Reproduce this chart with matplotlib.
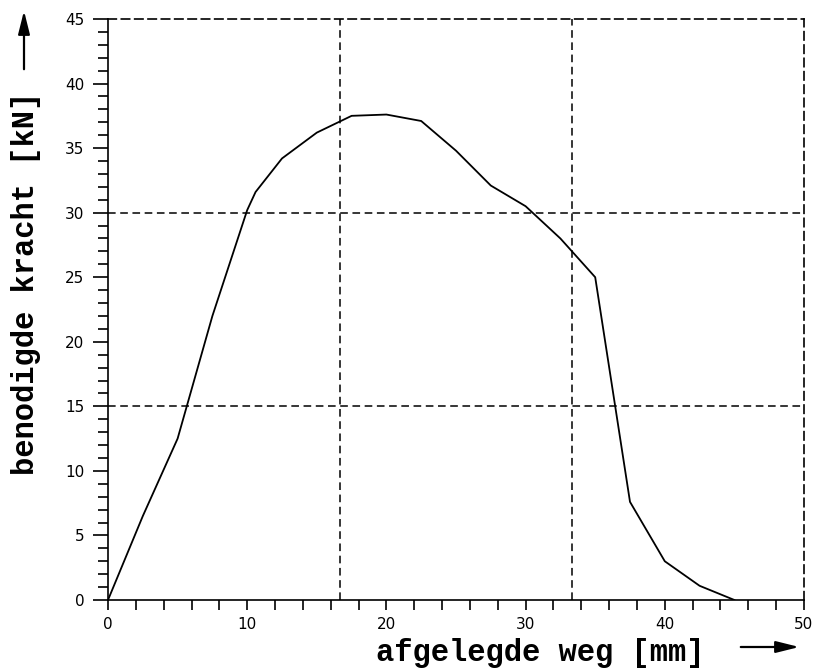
import matplotlib.pyplot as plt
import numpy as np

# afgelegde weg [mm] en benodigde kracht [kN]
weg = [0, 2.5, 5, 7.5, 10, 10.6, 12.5, 15, 17.5, 20, 22.5, 25, 27.5, 30, 32.5, 35, 37.5, 40, 42.5, 45]
kracht = [0, 6.5, 12.5, 22, 30.2, 31.6, 34.2, 36.2, 37.5, 37.6, 37.1, 34.8, 32.1, 30.5, 28.0, 25.0, 7.6, 3.0, 1.1, 0]

x_ticks = [0, 10, 20, 30, 40, 50]
y_ticks = [0, 5, 10, 15, 20, 25, 30, 35, 40, 45]
x_grid = [50 / 3, 100 / 3]
y_grid = [15, 30]

fig = plt.figure(figsize=(8.2, 6.71), dpi=100)
ax = fig.add_axes([108 / 820, 1 - 600 / 671, 696 / 820, 581 / 671])

ax.plot(weg, kracht, color='black', lw=1.3)

ax.set_xlim(0, 50)
ax.set_ylim(0, 45)

dash = (0, (5, 3))
for xv in x_grid:
    ax.axvline(xv, color='black', lw=1.1, linestyle=dash)
for yv in y_grid:
    ax.axhline(yv, color='black', lw=1.1, linestyle=dash)

ax.spines['top'].set_linestyle(dash)
ax.spines['right'].set_linestyle(dash)
for s in ax.spines.values():
    s.set_linewidth(1.2)

ax.set_xticks(x_ticks)
ax.set_xticks(np.arange(0, 51, 2), minor=True)
ax.set_yticks(y_ticks)
ax.set_yticks(np.arange(0, 46, 1), minor=True)
ax.tick_params(axis='both', which='both', width=1.2, labelsize=11, direction='out')
ax.tick_params(axis='x', which='both', length=7, pad=5)
ax.tick_params(axis='y', which='major', length=11, pad=6)
ax.tick_params(axis='y', which='minor', length=7)

mono = 'Liberation Mono'
fig.text(0.659, 1 - 661 / 671, 'afgelegde weg [mm]', family=mono, fontsize=22, fontweight='bold',
         ha='center', va='baseline')
fig.text(0.032, 1 - 283 / 671, 'benodigde kracht [kN]', family=mono, fontsize=22, fontweight='bold',
         ha='center', va='center', rotation=90)

arrow = dict(arrowstyle='-|>,head_length=1.4,head_width=0.35', color='black', lw=1.6)
ax.annotate('', xy=(802 / 820, 1 - 647 / 671), xytext=(738 / 820, 1 - 647 / 671),
            xycoords='figure fraction', arrowprops=arrow)
ax.annotate('', xy=(24 / 820, 1 - 8 / 671), xytext=(24 / 820, 1 - 72 / 671),
            xycoords='figure fraction', arrowprops=arrow)

fig.savefig('out.png', dpi=100)
